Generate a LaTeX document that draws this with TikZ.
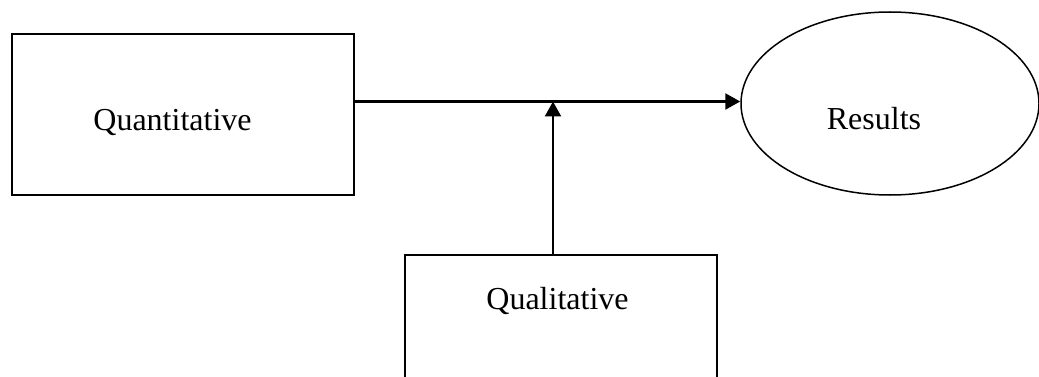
\documentclass[tikz,border=0pt]{standalone}
\usepackage{fontspec}
\setmainfont{Liberation Serif}
\usetikzlibrary{arrows.meta,shapes.geometric}
\begin{document}
\begin{tikzpicture}[x=1pt,y=-1pt,
  box/.style={draw,line width=1.7pt,rectangle,inner sep=0pt},
  oval/.style={draw,line width=1.5pt,ellipse,inner sep=0pt},
  lbl/.style={anchor=base,inner sep=0pt,font=\fontsize{32}{38}\selectfont},
  conn/.style={line width=2.3pt,-{Triangle[length=15pt,width=16pt]}}]
\useasboundingbox (0,0) rectangle (1039,377);
\clip (0,0) rectangle (1039,377);
\fill[white] (0,0) rectangle (1039,377);
\node[box,minimum width=342pt,minimum height=161pt] (quant) at (183,114.5) {};
\node[lbl] (quantlbl) at (172.5,131) {Quantitative};
\node[oval,minimum width=298pt,minimum height=183pt] (results) at (890,103.5) {};
\node[lbl] (resultslbl) at (874,130) {Results};
\node[box,minimum width=312pt,minimum height=165pt] (qual) at (561,337.5) {};
\node[lbl] (quallbl) at (557.5,309) {Qualitative};
\coordinate (j) at (553,101.5);
\draw[conn] (j -| quant.east) -- (j -| results.west);
\draw[conn] (qual.north -| j) -- (j);
\end{tikzpicture}
\end{document}
